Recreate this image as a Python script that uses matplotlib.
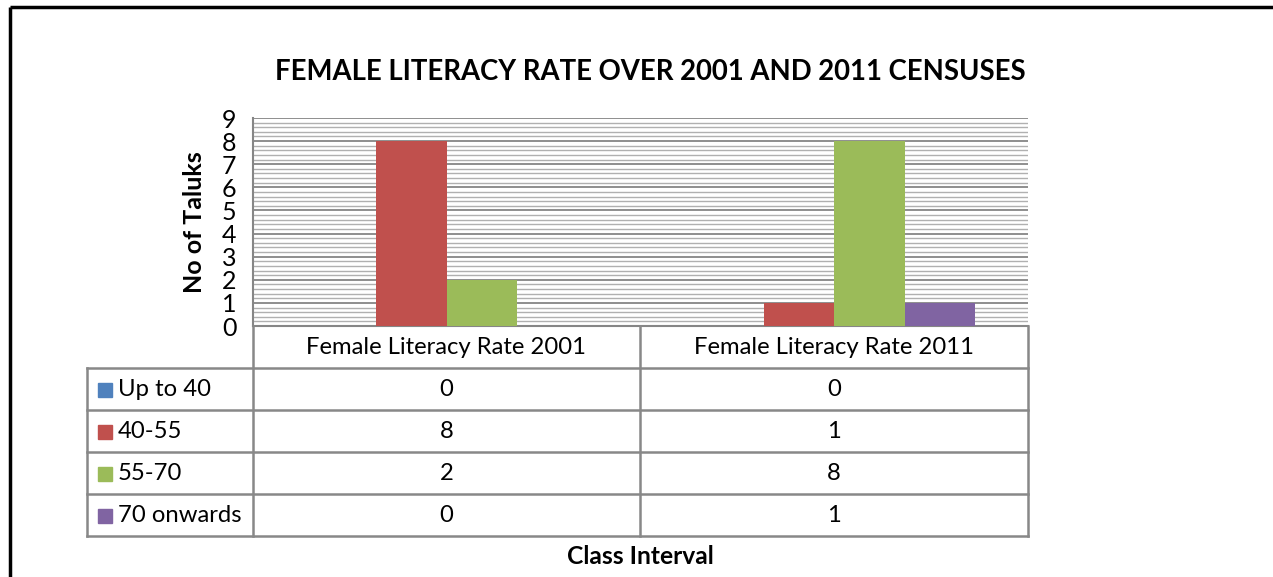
import matplotlib
matplotlib.use("Agg")
import matplotlib.pyplot as plt
import numpy as np

categories = ["Female Literacy Rate 2001", "Female Literacy Rate 2011"]
series_names = ["Up to 40", "40-55", "55-70", "70 onwards"]
values = {
    "Up to 40": [0, 0],
    "40-55": [8, 1],
    "55-70": [2, 8],
    "70 onwards": [0, 1],
}
colors = ["#4F81BD", "#C0504D", "#9BBB59", "#8064A2"]
title = "FEMALE LITERACY RATE OVER 2001 AND 2011 CENSUSES"
ylabel = "No of Taluks"
xlabel = "Class Interval"
yticks = list(range(0, 10))

plt.rcParams['font.family'] = ['Lato', 'DejaVu Sans']

W, H = 1273, 577
fig = plt.figure(figsize=(W / 100, H / 100), dpi=100)

def fx(x):
    return x / W

def fy(y):
    return 1 - y / H

# plot area in pixels
PL, PR, PT, PB = 253, 1028, 118, 326
ax = fig.add_axes([fx(PL), fy(PB), fx(PR - PL), (PB - PT) / H])
n = len(series_names)
bw = 1 / 5.5
x = np.arange(len(categories))
for i, s in enumerate(series_names):
    ax.bar(x + (i - (n - 1) / 2) * bw, values[s], width=bw, color=colors[i], zorder=3)
ax.set_xlim(-0.5, len(categories) - 0.5)
ax.set_ylim(0, 9)
ax.set_yticks(yticks)
ax.set_yticklabels([str(t) for t in yticks], fontsize=18)
ax.set_yticks(np.arange(0, 9.01, 0.2), minor=True)
ax.tick_params(axis='y', which='both', length=0, pad=12)
ax.set_xticks([])
ax.yaxis.grid(True, which='minor', color='#B0B0B0', linewidth=1.0, zorder=0)
ax.yaxis.grid(True, which='major', color='#868686', linewidth=1.3, zorder=1)
for sp in ['top', 'right']:
    ax.spines[sp].set_visible(False)
ax.spines['left'].set_color('#868686')
ax.spines['left'].set_linewidth(1.5)
ax.spines['bottom'].set_color('#868686')
ax.spines['bottom'].set_linewidth(1.5)

# overlay axes in pixel coords
ov = fig.add_axes([0, 0, 1, 1], zorder=5)
ov.set_xlim(0, W)
ov.set_ylim(H, 0)
ov.axis('off')
ov.patch.set_alpha(0)

# outer black border (top & left)
ov.plot([9.5, W], [6.5, 6.5], color='black', linewidth=2.5, solid_capstyle='butt')
ov.plot([9.5, 9.5], [6.5, H], color='black', linewidth=2.5, solid_capstyle='butt')

ov.text(650, 72, title, ha='center', va='center', fontsize=19.8, fontweight='bold')
ov.text(195, 222, ylabel, ha='center', va='center', rotation=90, fontsize=18, fontweight='bold')

# data table
gc = '#888888'
lw = 1.8
colx = [PL, 640, PR]
rows_y = [PB, 368, 410, 452, 494, 536]
LX = 87
for cx in colx:
    ov.plot([cx, cx], [PB, rows_y[-1]], color=gc, linewidth=lw)
ov.plot([LX, LX], [rows_y[1], rows_y[-1]], color=gc, linewidth=lw)
for ry in rows_y[1:]:
    ov.plot([LX, PR], [ry, ry], color=gc, linewidth=lw)

fs = 17.2
for j, c in enumerate(categories):
    ov.text((colx[j] + colx[j + 1]) / 2, (rows_y[0] + rows_y[1]) / 2 + 1, c,
            ha='center', va='center', fontsize=fs)
for i, s in enumerate(series_names):
    yc = (rows_y[i + 1] + rows_y[i + 2]) / 2 + 1
    ov.add_patch(plt.Rectangle((98, yc - 7), 14, 14, color=colors[i]))
    ov.text(118, yc, s, ha='left', va='center', fontsize=fs)
    for j in range(len(categories)):
        ov.text((colx[j] + colx[j + 1]) / 2, yc, str(values[s][j]),
                ha='center', va='center', fontsize=fs)

ov.text(640, 556, xlabel, ha='center', va='center', fontsize=17.7, fontweight='bold')

fig.savefig("out.png", dpi=100)
